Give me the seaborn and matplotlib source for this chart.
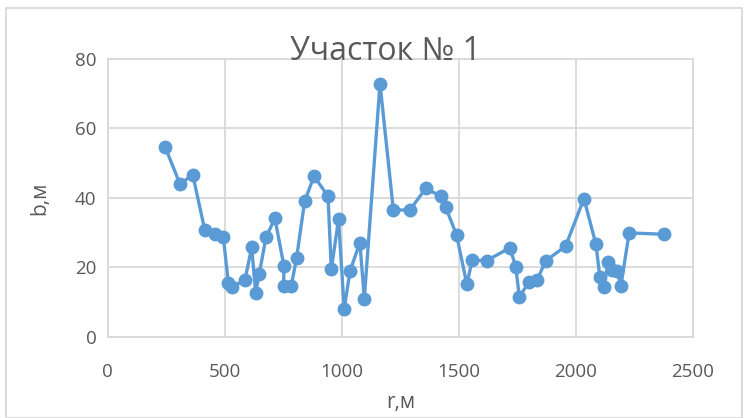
import matplotlib
matplotlib.use("Agg")
import matplotlib.pyplot as plt
import seaborn as sns
import pandas as pd
from matplotlib.patches import Rectangle

r_m = [245, 309, 363, 415, 458, 494, 515, 532, 586, 615, 632, 647, 676, 714,
       753, 751, 784, 807, 841, 881, 941, 955, 986, 1010, 1035, 1077, 1096,
       1163, 1220, 1291, 1358, 1422, 1443, 1490, 1534, 1557, 1618, 1718, 1743,
       1758, 1799, 1834, 1870, 1956, 2034, 2085, 2102, 2119, 2137, 2156, 2176,
       2192, 2227, 2375]
b_m = [54.7, 43.9, 46.7, 30.6, 29.6, 28.6, 15.6, 14.4, 16.3, 25.7, 12.7, 18.0,
       28.6, 34.1, 20.3, 14.6, 14.6, 22.8, 39.0, 46.2, 40.5, 19.4, 33.8, 8.0,
       18.9, 27.1, 11.0, 72.9, 36.5, 36.5, 42.7, 40.5, 37.4, 29.3, 15.1, 22.1,
       21.9, 25.6, 20.1, 11.5, 15.7, 16.3, 21.8, 26.1, 39.8, 26.7, 17.3, 14.4,
       21.4, 19.2, 18.9, 14.6, 29.9, 29.5]
x_ticks = [0, 500, 1000, 1500, 2000, 2500]
y_ticks = [0, 20, 40, 60, 80]
title = "Участок № 1"
x_label = "r,м"
y_label = "b,м"

df = pd.DataFrame({"r": r_m, "b": b_m})

sns.set_theme(style="white")
plt.rcParams['font.family'] = ['Open Sans', 'DejaVu Sans']

fig = plt.figure(figsize=(7.48, 4.18), dpi=100)
ax = fig.add_axes([0.144, 0.1945, 0.7825, 0.6644])

blue = "#5B9BD5"
grid = "#D9D9D9"
txt = "#595959"

sns.lineplot(data=df, x="r", y="b", sort=False, ax=ax, color=blue,
             linewidth=2.4, marker="o", markersize=10, markeredgewidth=0,
             markerfacecolor=blue, estimator=None)

ax.set_xlim(0, 2500)
ax.set_ylim(0, 80)
ax.set_xticks(x_ticks)
ax.set_yticks(y_ticks)
ax.set_xticklabels([str(t) for t in x_ticks])
ax.set_yticklabels([str(t) for t in y_ticks])
ax.grid(True, color=grid, linewidth=1.3)
ax.set_axisbelow(True)
for s in ax.spines.values():
    s.set_color(grid)
    s.set_linewidth(1.3)
ax.tick_params(axis="both", colors=txt, labelsize=13.5, length=0, pad=8)
ax.tick_params(axis="x", pad=19)
ax.set_xlabel(x_label, fontsize=15, color=txt, labelpad=8)
ax.set_ylabel(y_label, fontsize=15, color=txt, labelpad=18)

fig.text(0.515, 1 - 51 / 418, title, ha="center", va="center",
         fontsize=23, color=txt)

fig.patches.append(Rectangle((6 / 748, 0.0), (742 - 6) / 748, 1 - 8 / 418,
                             transform=fig.transFigure, fill=False,
                             edgecolor=grid, linewidth=1.3))

fig.savefig("out.png", dpi=100)
